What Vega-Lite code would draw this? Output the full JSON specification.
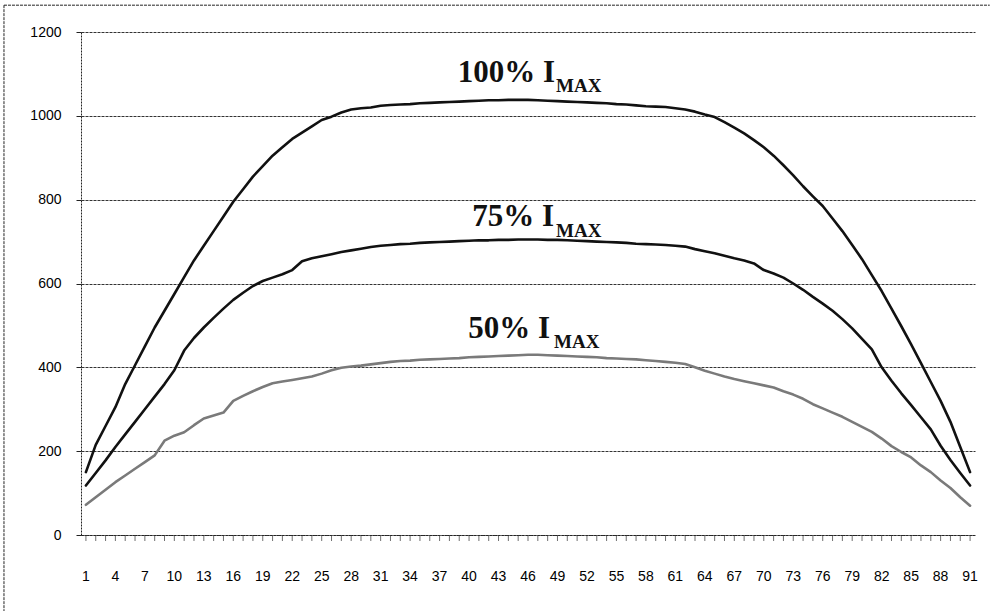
{
  "$schema": "https://vega.github.io/schema/vega-lite/v6.json",
  "width": 894,
  "height": 503,
  "autosize": {"type": "none"},
  "padding": {"left": 81, "top": 32, "right": 16, "bottom": 76},
  "background": "white",
  "config": {
    "view": {"stroke": null}
  },
  "datasets": {
    "profile": [
      {"i":1,"p100":150,"p75":118,"p50":72},{"i":2,"p100":215,"p75":148,"p50":90},{"i":3,"p100":260,"p75":178,"p50":108},
      {"i":4,"p100":305,"p75":210,"p50":126},{"i":5,"p100":360,"p75":240,"p50":142},{"i":6,"p100":405,"p75":270,"p50":158},
      {"i":7,"p100":450,"p75":300,"p50":174},{"i":8,"p100":495,"p75":330,"p50":190},{"i":9,"p100":535,"p75":360,"p50":225},
      {"i":10,"p100":575,"p75":393,"p50":237},{"i":11,"p100":615,"p75":440,"p50":245},{"i":12,"p100":655,"p75":470,"p50":262},
      {"i":13,"p100":690,"p75":495,"p50":278},{"i":14,"p100":725,"p75":518,"p50":285},{"i":15,"p100":760,"p75":540,"p50":292},
      {"i":16,"p100":795,"p75":561,"p50":320},{"i":17,"p100":825,"p75":578,"p50":332},{"i":18,"p100":855,"p75":594,"p50":343},
      {"i":19,"p100":880,"p75":606,"p50":353},{"i":20,"p100":905,"p75":614,"p50":362},{"i":21,"p100":925,"p75":622,"p50":366},
      {"i":22,"p100":945,"p75":632,"p50":370},{"i":23,"p100":960,"p75":653,"p50":374},{"i":24,"p100":975,"p75":660,"p50":378},
      {"i":25,"p100":990,"p75":665,"p50":385},{"i":26,"p100":998,"p75":670,"p50":393},{"i":27,"p100":1008,"p75":675,"p50":399},
      {"i":28,"p100":1015,"p75":679,"p50":402},{"i":29,"p100":1018,"p75":683,"p50":404},{"i":30,"p100":1020,"p75":687,"p50":407},
      {"i":31,"p100":1024,"p75":690,"p50":410},{"i":32,"p100":1026,"p75":692,"p50":413},{"i":33,"p100":1027,"p75":694,"p50":415},
      {"i":34,"p100":1028,"p75":695,"p50":416},{"i":35,"p100":1030,"p75":697,"p50":418},{"i":36,"p100":1031,"p75":698,"p50":419},
      {"i":37,"p100":1032,"p75":699,"p50":420},{"i":38,"p100":1033,"p75":700,"p50":421},{"i":39,"p100":1034,"p75":701,"p50":422},
      {"i":40,"p100":1035,"p75":702,"p50":424},{"i":41,"p100":1036,"p75":703,"p50":425},{"i":42,"p100":1037,"p75":703,"p50":426},
      {"i":43,"p100":1037,"p75":704,"p50":427},{"i":44,"p100":1038,"p75":704,"p50":428},{"i":45,"p100":1038,"p75":705,"p50":429},
      {"i":46,"p100":1038,"p75":705,"p50":430},{"i":47,"p100":1037,"p75":705,"p50":430},{"i":48,"p100":1036,"p75":704,"p50":429},
      {"i":49,"p100":1035,"p75":704,"p50":428},{"i":50,"p100":1034,"p75":703,"p50":427},{"i":51,"p100":1033,"p75":702,"p50":426},
      {"i":52,"p100":1032,"p75":701,"p50":425},{"i":53,"p100":1031,"p75":700,"p50":424},{"i":54,"p100":1030,"p75":699,"p50":422},
      {"i":55,"p100":1028,"p75":698,"p50":421},{"i":56,"p100":1027,"p75":697,"p50":420},{"i":57,"p100":1025,"p75":695,"p50":419},
      {"i":58,"p100":1023,"p75":694,"p50":417},{"i":59,"p100":1022,"p75":693,"p50":415},{"i":60,"p100":1021,"p75":692,"p50":413},
      {"i":61,"p100":1018,"p75":690,"p50":411},{"i":62,"p100":1015,"p75":688,"p50":408},{"i":63,"p100":1010,"p75":682,"p50":400},
      {"i":64,"p100":1003,"p75":677,"p50":392},{"i":65,"p100":997,"p75":672,"p50":385},{"i":66,"p100":985,"p75":666,"p50":378},
      {"i":67,"p100":972,"p75":660,"p50":372},{"i":68,"p100":958,"p75":655,"p50":367},{"i":69,"p100":942,"p75":648,"p50":362},
      {"i":70,"p100":925,"p75":632,"p50":357},{"i":71,"p100":905,"p75":624,"p50":352},{"i":72,"p100":882,"p75":614,"p50":343},
      {"i":73,"p100":858,"p75":600,"p50":335},{"i":74,"p100":832,"p75":585,"p50":325},{"i":75,"p100":808,"p75":568,"p50":312},
      {"i":76,"p100":785,"p75":552,"p50":302},{"i":77,"p100":755,"p75":535,"p50":292},{"i":78,"p100":725,"p75":515,"p50":282},
      {"i":79,"p100":692,"p75":493,"p50":270},{"i":80,"p100":658,"p75":468,"p50":258},{"i":81,"p100":620,"p75":443,"p50":246},
      {"i":82,"p100":582,"p75":400,"p50":230},{"i":83,"p100":540,"p75":368,"p50":212},{"i":84,"p100":498,"p75":338,"p50":198},
      {"i":85,"p100":455,"p75":310,"p50":185},{"i":86,"p100":410,"p75":281,"p50":166},{"i":87,"p100":365,"p75":252,"p50":150},
      {"i":88,"p100":320,"p75":213,"p50":130},{"i":89,"p100":270,"p75":179,"p50":112},{"i":90,"p100":210,"p75":148,"p50":90},
      {"i":91,"p100":150,"p75":118,"p50":70}
    ],
    "xticks": [
      {"v":1},{"v":4},{"v":7},{"v":10},{"v":13},{"v":16},{"v":19},{"v":22},{"v":25},{"v":28},{"v":31},
      {"v":34},{"v":37},{"v":40},{"v":43},{"v":46},{"v":49},{"v":52},{"v":55},{"v":58},{"v":61},
      {"v":64},{"v":67},{"v":70},{"v":73},{"v":76},{"v":79},{"v":82},{"v":85},{"v":88},{"v":91}
    ],
    "labels": [
      {"x": 48.75, "y": 1081, "text": "100% I", "part": "main"},
      {"x": 48.85, "y": 1057, "text": "MAX", "part": "sub"},
      {"x": 48.65, "y": 737, "text": "75% I", "part": "main"},
      {"x": 48.85, "y": 711, "text": "MAX", "part": "sub"},
      {"x": 48.24, "y": 470, "text": "50% I", "part": "main"},
      {"x": 48.65, "y": 446, "text": "MAX", "part": "sub"}
    ],
    "frame": [
      {"x1": -7.34, "x2": 93.0, "y1": 1264, "y2": 1264},
      {"x1": -7.34, "x2": -7.34, "y1": 1264, "y2": -185}
    ]
  },
  "layer": [
    {
      "data": {"name": "profile"},
      "transform": [{"fold": ["p100", "p75", "p50"], "as": ["level", "value"]}],
      "mark": {"type": "line", "strokeJoin": "round", "strokeCap": "round"},
      "encoding": {
        "x": {
          "field": "i", "type": "quantitative",
          "scale": {"domain": [0.5, 91.5], "nice": false, "zero": false},
          "axis": {
            "title": null, "grid": false, "labels": false, "ticks": false,
            "domainColor": "#222", "domainDash": [2, 1]
          }
        },
        "y": {
          "field": "value", "type": "quantitative",
          "scale": {"domain": [0, 1200], "nice": false},
          "axis": {
            "title": null, "values": [0, 200, 400, 600, 800, 1000, 1200], "format": "d",
            "labelFont": "Liberation Sans", "labelFontSize": 14, "labelColor": "#000",
            "grid": true, "gridColor": "#333", "gridDash": [3, 1], "gridWidth": 1,
            "domainColor": "#222", "domainDash": [2, 1],
            "tickColor": "#222", "tickSize": 5, "labelPadding": 15
          }
        },
        "color": {
          "field": "level", "type": "nominal", "legend": null,
          "scale": {"domain": ["p100", "p75", "p50"], "range": ["#111111", "#111111", "#7a7a7a"]}
        },
        "strokeWidth": {
          "field": "level", "type": "nominal", "legend": null,
          "scale": {"domain": ["p100", "p75", "p50"], "range": [2.6, 2.6, 1.5]}
        }
      }
    },
    {
      "data": {"name": "profile"},
      "mark": {"type": "tick", "orient": "vertical", "color": "#333", "size": 6, "thickness": 1, "yOffset": 3, "strokeDash": [1, 1]},
      "encoding": {
        "x": {"field": "i", "type": "quantitative"},
        "y": {"datum": 0, "type": "quantitative"}
      }
    },
    {
      "data": {"name": "xticks"},
      "mark": {"type": "text", "font": "Liberation Sans", "fontSize": 14, "color": "#000", "align": "center", "baseline": "middle", "dy": 42},
      "encoding": {
        "x": {"field": "v", "type": "quantitative"},
        "y": {"datum": 0, "type": "quantitative"},
        "text": {"field": "v", "type": "quantitative", "format": "d"}
      }
    },
    {
      "data": {"name": "frame"},
      "mark": {"type": "rule", "color": "#222", "strokeWidth": 1, "strokeDash": [3, 1], "clip": false},
      "encoding": {
        "x": {"field": "x1", "type": "quantitative"},
        "x2": {"field": "x2"},
        "y": {"field": "y1", "type": "quantitative"},
        "y2": {"field": "y2"}
      }
    },
    {
      "data": {"name": "labels"},
      "transform": [{"filter": "datum.part === 'main'"}],
      "mark": {"type": "text", "font": "Liberation Serif", "fontWeight": "bold", "fontSize": 31, "align": "right", "baseline": "alphabetic", "color": "#111"},
      "encoding": {
        "x": {"field": "x", "type": "quantitative"},
        "y": {"field": "y", "type": "quantitative"},
        "text": {"field": "text"}
      }
    },
    {
      "data": {"name": "labels"},
      "transform": [{"filter": "datum.part === 'sub'"}],
      "mark": {"type": "text", "font": "Liberation Serif", "fontWeight": "bold", "fontSize": 19, "align": "left", "baseline": "alphabetic", "color": "#111"},
      "encoding": {
        "x": {"field": "x", "type": "quantitative"},
        "y": {"field": "y", "type": "quantitative"},
        "text": {"field": "text"}
      }
    }
  ]
}
